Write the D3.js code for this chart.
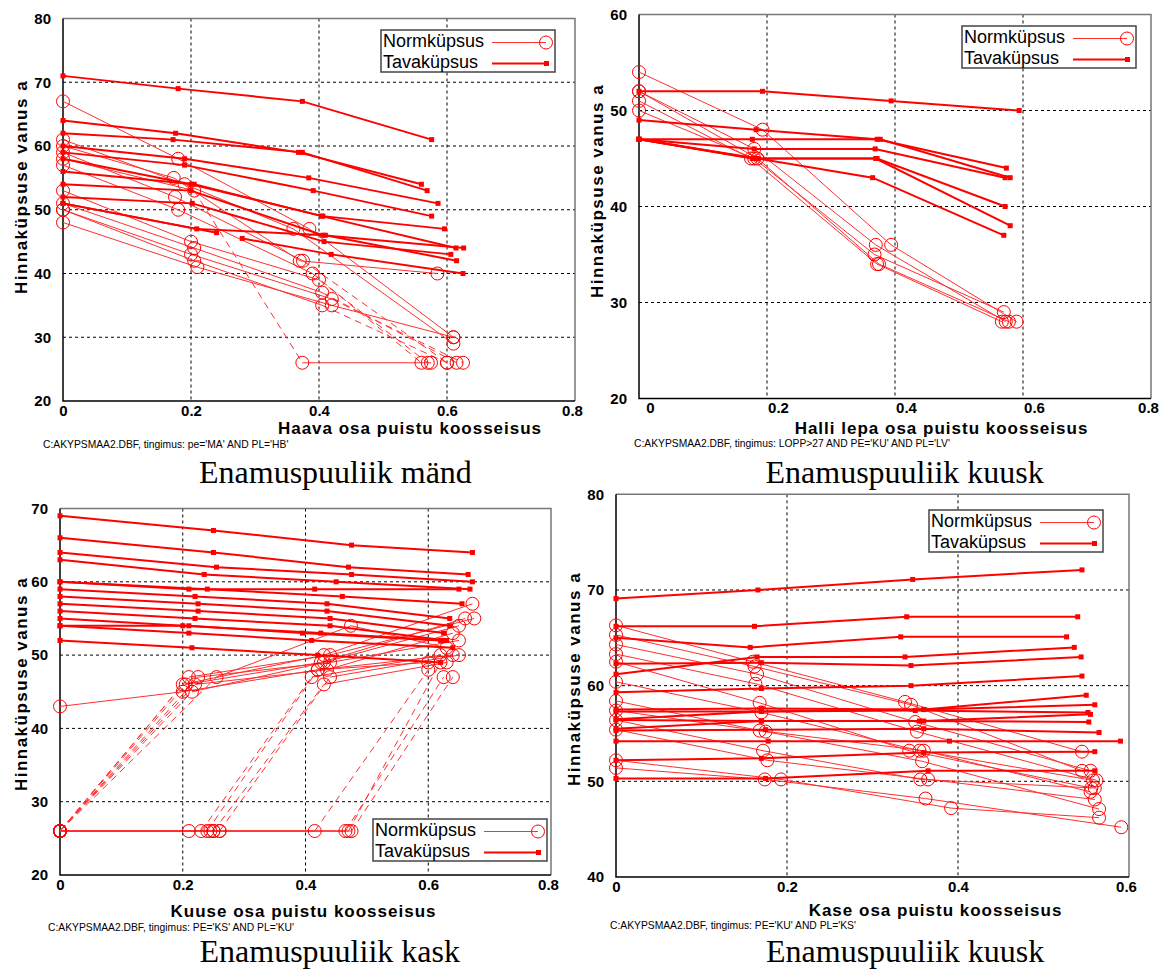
<!DOCTYPE html>
<html>
<head>
<meta charset="utf-8">
<script src="https://cdn.jsdelivr.net/npm/d3@7"></script>
<style>
  body { margin: 0; background: #fff; }
  svg { display: block; }
  text { font-family: Arial, 'Liberation Sans', sans-serif; }
</style>
</head>
<body>
<svg id="chart" width="1163" height="969"></svg>
<script>
// ---- data ----
const legendLabels = ['Normküpsus', 'Tavaküpsus'];
const yAxisTitle = 'Hinnaküpsuse vanus a';
const xAxisTitles = [
  'Haava osa puistu koosseisus',
  'Halli lepa osa puistu koosseisus',
  'Kuuse osa puistu koosseisus',
  'Kase osa puistu koosseisus'
];
const footnotes = [
  "C:AKYPSMAA2.DBF, tingimus: pe='MA' AND PL='HB'",
  "C:AKYPSMAA2.DBF, tingimus: LOPP>27 AND PE='KU' AND PL='LV'",
  "C:AKYPSMAA2.DBF, tingimus: PE='KS' AND PL='KU'",
  "C:AKYPSMAA2.DBF, tingimus: PE='KU' AND PL='KS'"
];
const captions = ['Enamuspuuliik mänd', 'Enamuspuuliik kuusk', 'Enamuspuuliik kask', 'Enamuspuuliik kuusk'];

const xTicks8 = [0, 0.2, 0.4, 0.6, 0.8];
const xTicks6 = [0, 0.2, 0.4, 0.6];
const yTicksMand = [20, 30, 40, 50, 60, 70, 80];
const yTicksLepp = [20, 30, 40, 50, 60];
const yTicksKask = [20, 30, 40, 50, 60, 70];
const yTicksKuusk = [40, 50, 60, 70, 80];

// lowest age value used in the source (segments jumping to it are dashed)
const floorAge = 26;

// panel 1: mänd / haab
const mandTava = [
  [[0, 71], [0.18, 69], [0.374, 67], [0.576, 61]],
  [[0, 64], [0.176, 62], [0.368, 59], [0.56, 54]],
  [[0, 62], [0.172, 61], [0.374, 59], [0.569, 53]],
  [[0, 60], [0.19, 58], [0.384, 55], [0.586, 51]],
  [[0, 59], [0.19, 57], [0.391, 53], [0.576, 49]],
  [[0, 58], [0.2, 54], [0.406, 49], [0.596, 47]],
  [[0, 56], [0.205, 54], [0.404, 49], [0.614, 44]],
  [[0, 54], [0.2, 53], [0.406, 46], [0.626, 44]],
  [[0, 52], [0.202, 51], [0.408, 45], [0.606, 43]],
  [[0, 51], [0.209, 47], [0.41, 46], [0.615, 42]],
  [[0, 51], [0.24, 46.4]],
  [[0.28, 45.5], [0.419, 43], [0.625, 40]]
];
const mandNorm = [
  [[0, 67], [0.18, 58], [0.385, 47], [0.61, 30]],
  [[0, 61], [0.19, 54], [0.36, 47], [0.61, 29]],
  [[0, 60], [0.173, 55], [0.37, 42], [0.585, 40]],
  [[0, 59], [0.175, 52], [0.375, 42], [0.6, 26]],
  [[0, 58], [0.205, 53], [0.374, 26], [0.575, 26]],
  [[0, 57], [0.18, 50], [0.39, 40], [0.56, 26]],
  [[0, 53], [0.2, 45], [0.4, 39], [0.57, 26]],
  [[0, 51], [0.205, 44], [0.405, 37], [0.615, 26]],
  [[0, 50], [0.2, 43], [0.42, 36], [0.625, 26]],
  [[0, 50], [0.205, 42], [0.405, 35], [0.6, 26]],
  [[0, 48], [0.21, 41], [0.42, 35], [0.61, 30]]
];

// panel 2: kuusk / hall lepp
const leppTava = [
  [[0, 52], [0.193, 52], [0.394, 51], [0.594, 50]],
  [[0, 49], [0.183, 48], [0.372, 47], [0.574, 44]],
  [[0, 47], [0.177, 47], [0.377, 47], [0.58, 43]],
  [[0, 47], [0.18, 46], [0.369, 46], [0.572, 43]],
  [[0, 47], [0.18, 45], [0.372, 45], [0.572, 40]],
  [[0, 47], [0.177, 45], [0.37, 45], [0.58, 38]],
  [[0, 47], [0.185, 45], [0.365, 43], [0.57, 37]]
];
const leppNorm = [
  [[0, 54], [0.193, 48], [0.394, 36], [0.59, 28]],
  [[0, 52], [0.18, 46], [0.37, 36], [0.573, 28]],
  [[0, 51], [0.175, 45], [0.372, 34], [0.567, 28]],
  [[0, 50], [0.18, 45], [0.368, 35], [0.57, 29]],
  [[0, 52], [0.185, 45], [0.375, 34], [0.578, 28]]
];

// panel 3: kask / kuusk
const kaskTava = [
  [[0, 69], [0.25, 67], [0.475, 65], [0.672, 64]],
  [[0, 66], [0.25, 64], [0.47, 62], [0.665, 61]],
  [[0, 64], [0.255, 62], [0.475, 61], [0.672, 60]],
  [[0, 63], [0.235, 61], [0.45, 60], [0.668, 59]],
  [[0, 60], [0.21, 59], [0.415, 59], [0.65, 59]],
  [[0, 60], [0.24, 59], [0.46, 58], [0.655, 57]],
  [[0, 59], [0.22, 58], [0.435, 57], [0.635, 55]],
  [[0, 58], [0.225, 57], [0.435, 56], [0.635, 54]],
  [[0, 57], [0.225, 56], [0.44, 55], [0.625, 53]],
  [[0, 56], [0.22, 55], [0.44, 54], [0.63, 52]],
  [[0, 55], [0.2, 54], [0.425, 53], [0.625, 52]],
  [[0, 54], [0.21, 54], [0.395, 53], [0.62, 52]],
  [[0, 54], [0.21, 53], [0.41, 52], [0.64, 51]],
  [[0, 52], [0.215, 51], [0.42, 50], [0.62, 49]]
];
const kaskNorm = [
  [[0, 43], [0.2, 45], [0.42, 48], [0.6, 49]],
  [[0, 26], [0.2, 46], [0.43, 50], [0.672, 57]],
  [[0, 26], [0.205, 46], [0.425, 49], [0.66, 55]],
  [[0, 26], [0.21, 47], [0.44, 50], [0.675, 55]],
  [[0, 26], [0.215, 45], [0.43, 49], [0.65, 54]],
  [[0, 26], [0.22, 46], [0.435, 48], [0.64, 53]],
  [[0, 26], [0.225, 47], [0.44, 49], [0.65, 52]],
  [[0, 26], [0.255, 47], [0.474, 54], [0.63, 51]],
  [[0, 26], [0.23, 26], [0.41, 47], [0.62, 50]],
  [[0, 26], [0.24, 26], [0.42, 48], [0.64, 50]],
  [[0, 26], [0.25, 26], [0.43, 46], [0.63, 49]],
  [[0, 26], [0.26, 26], [0.44, 47], [0.65, 50]],
  [[0, 26], [0.21, 26], [0.415, 26], [0.6, 48]],
  [[0, 26], [0.245, 26], [0.465, 26], [0.625, 47]],
  [[0, 26], [0.25, 26], [0.47, 26], [0.62, 49]],
  [[0, 26], [0.26, 26], [0.475, 26], [0.64, 47]]
];

// panel 4: kuusk / kask
const kuuskTava = [
  [[0, 69.1], [0.166, 70], [0.347, 71.1], [0.545, 72.1]],
  [[0, 66.2], [0.162, 66.2], [0.34, 67.2], [0.54, 67.2]],
  [[0, 65], [0.157, 64], [0.333, 65.1], [0.527, 65.1]],
  [[0, 61.2], [0.165, 63], [0.338, 63], [0.536, 64]],
  [[0, 62.3], [0.17, 62.4], [0.345, 62.1], [0.544, 63]],
  [[0, 59.3], [0.17, 59.7], [0.345, 60], [0.545, 61]],
  [[0, 57.5], [0.17, 57.6], [0.36, 57.5], [0.55, 59]],
  [[0, 56.5], [0.17, 57.3], [0.36, 57.5], [0.56, 58]],
  [[0, 57.3], [0.17, 57.3], [0.35, 57.4], [0.552, 57.2]],
  [[0, 55.5], [0.17, 56.3], [0.36, 56.3], [0.555, 57]],
  [[0, 56.4], [0.17, 56.3], [0.355, 56.3], [0.553, 56.2]],
  [[0, 55.3], [0.175, 55.4], [0.36, 55.5], [0.565, 55.1]],
  [[0, 54.2], [0.178, 54.2], [0.39, 54.2], [0.59, 54.2]],
  [[0, 52.2], [0.17, 52.4], [0.36, 53], [0.56, 53.1]],
  [[0, 50.3], [0.175, 50.3], [0.365, 51.1], [0.56, 51.1]]
];
const kuuskNorm = [
  [[0, 66.3], [0.16, 62.5], [0.338, 58.3], [0.545, 53.1]],
  [[0, 65.3], [0.162, 62], [0.345, 58], [0.545, 51.1]],
  [[0, 64.3], [0.165, 61.2], [0.35, 56.2], [0.555, 51.1]],
  [[0, 63.3], [0.163, 60.2], [0.352, 55.2], [0.562, 50.1]],
  [[0, 62.5], [0.168, 58.2], [0.343, 53.2], [0.556, 49.3]],
  [[0, 60.4], [0.17, 57.2], [0.355, 53.2], [0.558, 50.1]],
  [[0, 58.4], [0.168, 55.3], [0.36, 53.2], [0.555, 48.9]],
  [[0, 57.4], [0.175, 55.2], [0.358, 52.1], [0.565, 47.1]],
  [[0, 56.4], [0.172, 53.2], [0.356, 50.2], [0.56, 49.3]],
  [[0, 55.4], [0.177, 52.2], [0.365, 50.2], [0.56, 48.1]],
  [[0, 52.2], [0.193, 50.2], [0.392, 47.2], [0.565, 46.2]],
  [[0, 51.4], [0.174, 50.2], [0.362, 48.2], [0.591, 45.2]]
];

// ---- layout ----
const panels = [
  { left: 63, right: 575, top: 18.5, bottom: 401, xDomain: [0, 0.8], yDomain: [20, 80],
    xTicks: xTicks8, yTicks: yTicksMand, norm: mandNorm, tava: mandTava, labelDx: 0,
    legend: [381, 30], yTitle: [21, 187], xTitle: [410, 428], foot: [43, 444], caption: [199, 483] },
  { left: 639, right: 1151, top: 14.5, bottom: 398.5, xDomain: [0, 0.8], yDomain: [20, 60],
    xTicks: xTicks8, yTicks: yTicksLepp, norm: leppNorm, tava: leppTava, labelDx: 11,
    legend: [962, 26], yTitle: [597, 191], xTitle: [941.5, 428], foot: [634, 443], caption: [765.5, 483] },
  { left: 60, right: 551, top: 508.5, bottom: 875, xDomain: [0, 0.8], yDomain: [20, 70],
    xTicks: xTicks8, yTicks: yTicksKask, norm: kaskNorm, tava: kaskTava, labelDx: 0,
    legend: [373, 819], yTitle: [21, 684], xTitle: [303.5, 911], foot: [48, 927], caption: [199.5, 962] },
  { left: 616, right: 1129, top: 494.3, bottom: 877, xDomain: [0, 0.6], yDomain: [40, 80],
    xTicks: xTicks6, yTicks: yTicksKuusk, norm: kuuskNorm, tava: kuuskTava, labelDx: 0,
    legend: [929, 510], yTitle: [574, 679], xTitle: [935.5, 910], foot: [610, 925], caption: [766, 962] }
];

const RED = '#ff0000';
const NORM_RED = '#ff3030';

const svg = d3.select('#chart');

function drawPanel(p, i) {
  const x = d3.scaleLinear().domain(p.xDomain).range([p.left, p.right]);
  const y = d3.scaleLinear().domain(p.yDomain).range([p.bottom, p.top]);
  const g = svg.append('g');

  // dashed grid (inner ticks only)
  g.selectAll('line.vgrid')
    .data(p.xTicks.filter(t => t > p.xDomain[0] && t < p.xDomain[1]))
    .join('line')
    .attr('x1', d => x(d)).attr('x2', d => x(d))
    .attr('y1', p.top).attr('y2', p.bottom)
    .attr('stroke', '#000').attr('stroke-width', 1).attr('stroke-dasharray', '3,3');
  g.selectAll('line.hgrid')
    .data(p.yTicks.filter(t => t > p.yDomain[0] && t < p.yDomain[1]))
    .join('line')
    .attr('x1', p.left).attr('x2', p.right)
    .attr('y1', d => y(d)).attr('y2', d => y(d))
    .attr('stroke', '#000').attr('stroke-width', 1).attr('stroke-dasharray', '3,3');

  // frame: grey top/right, black left/bottom
  g.append('path')
    .attr('d', `M${p.left},${p.top}H${p.right}V${p.bottom}`)
    .attr('fill', 'none').attr('stroke', '#777').attr('stroke-width', 1.5);
  g.append('path')
    .attr('d', `M${p.left},${p.top}V${p.bottom}H${p.right}`)
    .attr('fill', 'none').attr('stroke', '#000').attr('stroke-width', 1.5);

  // tick labels through d3 axes
  const xAxis = g.append('g')
    .attr('transform', `translate(0,${p.bottom})`)
    .call(d3.axisBottom(x).tickValues(p.xTicks).tickSize(0).tickPadding(4).tickFormat(d => String(d)));
  const yAxis = g.append('g')
    .attr('transform', `translate(${p.left},0)`)
    .call(d3.axisLeft(y).tickValues(p.yTicks).tickSize(0).tickPadding(12).tickFormat(d => String(d)));
  [xAxis, yAxis].forEach(a => {
    a.select('.domain').remove();
    a.selectAll('text')
      .attr('fill', '#000')
      .style('font-size', '15px')
      .style('font-weight', 'bold')
      .style('font-family', 'Arial, "Liberation Sans", sans-serif');
  });
  xAxis.selectAll('.tick text')
    .attr('x', d => Math.min(x(d) + p.labelDx, p.right - 3) - x(d));

  // Normküpsus: thin lines, dashed where a segment drops to the floor value
  p.norm.forEach(line => {
    d3.pairs(line).forEach(([a, b]) => {
      const jump = (a[1] === floorAge) !== (b[1] === floorAge);
      g.append('path')
        .attr('d', d3.line().x(d => x(d[0])).y(d => y(d[1]))([a, b]))
        .attr('fill', 'none')
        .attr('stroke', NORM_RED)
        .attr('stroke-width', 1)
        .attr('stroke-dasharray', jump ? '7,5' : null);
    });
  });

  // Tavaküpsus: thick lines
  const tavaLine = d3.line().x(d => x(d[0])).y(d => y(d[1]));
  g.selectAll('path.tava')
    .data(p.tava)
    .join('path')
    .attr('d', tavaLine)
    .attr('fill', 'none')
    .attr('stroke', RED)
    .attr('stroke-width', 2);

  // markers
  g.selectAll('circle.norm')
    .data(p.norm.flat())
    .join('circle')
    .attr('cx', d => x(d[0])).attr('cy', d => y(d[1]))
    .attr('r', 6.5)
    .attr('fill', 'none').attr('stroke', RED).attr('stroke-width', 1);
  g.selectAll('rect.tava')
    .data(p.tava.flat())
    .join('rect')
    .attr('x', d => x(d[0]) - 2.5).attr('y', d => y(d[1]) - 2.5)
    .attr('width', 5).attr('height', 5)
    .attr('fill', RED);

  // legend
  const [lx, ly] = p.legend;
  const lg = g.append('g').attr('transform', `translate(${lx},${ly})`);
  lg.append('rect')
    .attr('width', 174).attr('height', 42)
    .attr('fill', '#fff').attr('stroke', '#444').attr('stroke-width', 1.5);
  legendLabels.forEach((lab, k) => {
    const ry = k === 0 ? 10.5 : 31.5;
    lg.append('text')
      .attr('x', 2).attr('y', ry).attr('dy', '0.36em')
      .style('font-size', '18px').attr('fill', '#000')
      .text(lab);
    lg.append('line')
      .attr('x1', 111).attr('x2', 165).attr('y1', ry + 2).attr('y2', ry + 2)
      .attr('stroke', k === 0 ? NORM_RED : RED).attr('stroke-width', k === 0 ? 1 : 2);
    if (k === 0) {
      lg.append('circle').attr('cx', 165).attr('cy', ry + 2).attr('r', 6.5)
        .attr('fill', 'none').attr('stroke', RED);
    } else {
      lg.append('rect').attr('x', 163).attr('y', ry - 0.5).attr('width', 5).attr('height', 5)
        .attr('fill', RED);
    }
  });

  // titles
  g.append('text')
    .attr('transform', `translate(${p.yTitle[0]},${p.yTitle[1]}) rotate(-90)`)
    .attr('text-anchor', 'middle').attr('dy', '0.36em')
    .style('font-size', '17px').style('font-weight', 'bold').style('letter-spacing', '1.5px')
    .attr('fill', '#000')
    .text(yAxisTitle);
  g.append('text')
    .attr('x', p.xTitle[0]).attr('y', p.xTitle[1])
    .attr('text-anchor', 'middle').attr('dy', '0.36em')
    .style('font-size', '17px').style('font-weight', 'bold').style('letter-spacing', '1px')
    .attr('fill', '#000')
    .text(xAxisTitles[i]);
  g.append('text')
    .attr('x', p.foot[0]).attr('y', p.foot[1])
    .attr('dy', '0.36em')
    .style('font-size', '10.3px').attr('fill', '#000')
    .text(footnotes[i]);
  g.append('text')
    .attr('x', p.caption[0]).attr('y', p.caption[1])
    .style('font-family', '"Liberation Serif", "Times New Roman", serif')
    .style('font-size', '32px').attr('fill', '#000')
    .text(captions[i]);
}

panels.forEach(drawPanel);
</script>
</body>
</html>
